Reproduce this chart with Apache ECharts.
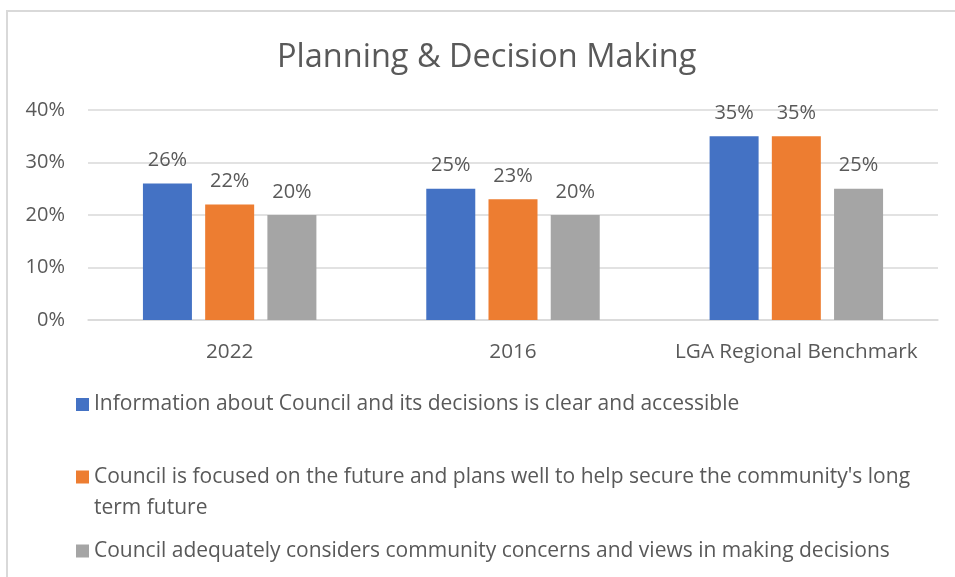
<!DOCTYPE html>
<html>
<head>
<meta charset="utf-8">
<script src="https://cdn.jsdelivr.net/npm/echarts@6/dist/echarts.min.js"></script>
<style>
  html, body { margin: 0; padding: 0; background: #fff; }
  #chart { width: 955px; height: 577px; }
</style>
</head>
<body>
<div id="chart"></div>
<script>
// categories and series values (percent)
const categories = ['2022', '2016', 'LGA Regional Benchmark'];
const infoClear = [26, 25, 35];
const futureFocus = [22, 23, 35];
const considersViews = [20, 20, 25];
const seriesNames = [
  'Information about Council and its decisions is clear and accessible',
  "Council is focused on the future and plans well to help secure the community's long term future",
  'Council adequately considers community concerns and views in making decisions'
];
const yTicks = [0, 10, 20, 30, 40];
const colors = ['#4472C4', '#ED7D31', '#A5A5A5'];

const font = '"Open Sans", Lato, sans-serif';
const txt = '#595959';

const chart = echarts.init(document.getElementById('chart'), null, { renderer: 'canvas' });

const makeBar = (name, data, color) => ({
  name: name,
  type: 'bar',
  data: data,
  barWidth: 49,
  barGap: '27%',
  itemStyle: { color: color },
  label: {
    show: true,
    position: 'top',
    distance: 13,
    formatter: '{c}%',
    color: txt,
    fontFamily: font,
    fontSize: 20
  }
});

const makeLegend = (i, top, extra) => Object.assign({
  data: [seriesNames[i]],
  left: 76,
  top: top,
  padding: 0,
  orient: 'vertical',
  icon: 'rect',
  itemWidth: 13,
  itemHeight: 13,
  selectedMode: false,
  textStyle: { color: txt, fontFamily: font, fontSize: 21 }
}, extra || {});

const option = {
  animation: false,
  title: {
    text: 'Planning & Decision Making',
    left: 277,
    top: 41,
    padding: 0,
    textStyle: { color: txt, fontFamily: font, fontSize: 32.5, fontWeight: 'normal' }
  },
  graphic: [{
    type: 'rect',
    shape: { x: 7, y: 11, width: 2000, height: 2000 },
    style: { fill: 'none', stroke: '#d9d9d9', lineWidth: 2 },
    silent: true
  }],
  grid: { left: 88, right: 17, top: 110, bottom: 257 },
  xAxis: {
    type: 'category',
    data: categories,
    axisLine: { lineStyle: { color: '#d9d9d9', width: 1.5 } },
    axisTick: { show: false },
    axisLabel: { color: txt, fontFamily: font, fontSize: 20.7, margin: 22, interval: 0 }
  },
  yAxis: {
    type: 'value',
    min: yTicks[0],
    max: yTicks[yTicks.length - 1],
    interval: 10,
    axisLine: { show: false },
    axisTick: { show: false },
    splitLine: { lineStyle: { color: '#d9d9d9', width: 1.5 } },
    axisLabel: { color: txt, fontFamily: font, fontSize: 20, margin: 23, formatter: '{value}%' }
  },
  legend: [
    makeLegend(0, 394),
    makeLegend(1, 430.5, {
      // blank first line keeps the swatch level with the first text line
      formatter: (name) => '\n' + name.replace(' term future', '\nterm future'),
      textStyle: { color: txt, fontFamily: font, fontSize: 21, lineHeight: 31 }
    }),
    makeLegend(2, 540.5)
  ],
  series: [
    makeBar(seriesNames[0], infoClear, colors[0]),
    makeBar(seriesNames[1], futureFocus, colors[1]),
    makeBar(seriesNames[2], considersViews, colors[2])
  ]
};

chart.setOption(option);
</script>
</body>
</html>
